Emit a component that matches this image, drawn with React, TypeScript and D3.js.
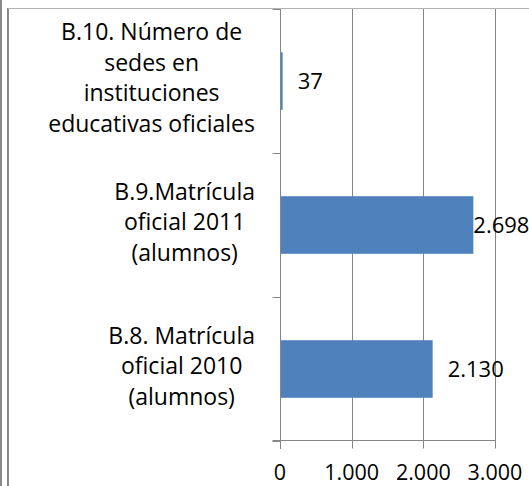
import { useEffect, useRef } from 'react';
import { select, scaleLinear, scaleBand, formatLocale } from 'd3';

// categories top to bottom, already wrapped like the original
const categoryLines = [
    ['B.10. Número de', 'sedes en', 'instituciones', 'educativas oficiales'],
    ['B.9.Matrícula', 'oficial 2011', '(alumnos)'],
    ['B.8. Matrícula', 'oficial 2010', '(alumnos)'],
];
const categoryKeys = ['B.10', 'B.9', 'B.8'];
const values = [37, 2698, 2130];
const xTicks = [0, 1000, 2000, 3000];

const width = 529;
const height = 486;
const FONT = '"Open Sans", Lato, sans-serif';

const App = () => {
    const svgRef = useRef(null);

    useEffect(() => {
        const svg = select(svgRef.current);
        svg.selectAll('*').remove();

        const fmt = formatLocale({ decimal: ',', thousands: '.', grouping: [3], currency: ['', ''] }).format(',');

        const margin = { top: 9, left: 280, right: 34, bottom: 45 };
        const x = scaleLinear()
            .domain([0, 3000])
            .range([margin.left, width - margin.right]);
        const y = scaleBand()
            .domain(categoryKeys)
            .range([margin.top, height - margin.bottom])
            .paddingInner(0.6)
            .paddingOuter(0.3);
        const step = y.step();
        const top = margin.top;
        const bottom = height - margin.bottom;

        // white background + chart borders
        svg.append('rect').attr('width', width).attr('height', height).attr('fill', 'white');
        svg.append('line')
            .attr('x1', 1).attr('x2', 1).attr('y1', 0).attr('y2', height)
            .attr('stroke', '#8a8a8a').attr('stroke-width', 2);
        svg.append('line')
            .attr('x1', 8).attr('x2', 8).attr('y1', 8).attr('y2', height)
            .attr('stroke', '#8a8a8a').attr('stroke-width', 2);
        svg.append('line')
            .attr('x1', 8).attr('x2', width).attr('y1', 8.5).attr('y2', 8.5)
            .attr('stroke', '#b4b4b4').attr('stroke-width', 1);

        // vertical gridlines
        svg.selectAll('.grid')
            .data(xTicks.filter(d => d > 0))
            .enter().append('line')
            .attr('class', 'grid')
            .attr('x1', d => Math.round(x(d)) + 0.5)
            .attr('x2', d => Math.round(x(d)) + 0.5)
            .attr('y1', top)
            .attr('y2', bottom)
            .attr('stroke', '#868686');

        // bars
        svg.selectAll('.bar')
            .data(values)
            .enter().append('rect')
            .attr('class', 'bar')
            .attr('x', x(0))
            .attr('y', (d, i) => y(categoryKeys[i]))
            .attr('width', d => x(d) - x(0))
            .attr('height', y.bandwidth())
            .attr('fill', '#4f81bd');

        // y axis line + ticks at band boundaries
        const ax = Math.round(x(0)) + 0.5;
        svg.append('line')
            .attr('x1', ax).attr('x2', ax).attr('y1', top).attr('y2', bottom + 8)
            .attr('stroke', '#868686');
        const bounds = [0, 1, 2, 3].map(i => Math.round(top + i * step) + 0.5);
        svg.selectAll('.ytick')
            .data(bounds)
            .enter().append('line')
            .attr('class', 'ytick')
            .attr('x1', ax - 8).attr('x2', ax)
            .attr('y1', d => d).attr('y2', d => d)
            .attr('stroke', '#868686');

        // x axis line + ticks
        const by = Math.round(bottom) - 0.5;
        svg.append('line')
            .attr('x1', ax - 8).attr('x2', x(3000) + 0.5).attr('y1', by).attr('y2', by)
            .attr('stroke', '#868686');
        svg.selectAll('.xtick')
            .data(xTicks)
            .enter().append('line')
            .attr('class', 'xtick')
            .attr('x1', d => Math.round(x(d)) + 0.5)
            .attr('x2', d => Math.round(x(d)) + 0.5)
            .attr('y1', by).attr('y2', by + 8)
            .attr('stroke', '#868686');

        svg.selectAll('.xlabel')
            .data(xTicks)
            .enter().append('text')
            .attr('class', 'xlabel')
            .attr('x', d => x(d))
            .attr('y', 480)
            .attr('text-anchor', 'middle')
            .style('font-family', FONT)
            .style('font-size', '21.5px')
            .attr('fill', '#000')
            .text(d => fmt(d));

        // category labels: block right-aligned to the axis, lines centred in block
        const lineH = 30.5;
        categoryLines.forEach((lines, i) => {
            const cy = y(categoryKeys[i]) + y.bandwidth() / 2;
            const g = svg.append('g');
            const texts = g.selectAll('text')
                .data(lines)
                .enter().append('text')
                .attr('y', (d, j) => cy + 5 + (j - (lines.length - 1) / 2) * lineH)
                .attr('text-anchor', 'middle')
                .style('font-family', FONT)
                .style('font-size', '23px')
                .attr('fill', '#000')
                .text(d => d);
            let maxW = 0;
            texts.each(function () {
                maxW = Math.max(maxW, this.getComputedTextLength());
            });
            texts.attr('x', margin.left - 25 - maxW / 2);
        });

        // value labels
        const plotRight = x(3000);
        svg.selectAll('.vlabel')
            .data(values)
            .enter().append('text')
            .attr('class', 'vlabel')
            .attr('x', d => (x(d) + 15 > plotRight - 20 ? x(d) : x(d) + 15))
            .attr('y', (d, i) => y(categoryKeys[i]) + y.bandwidth() / 2 + 8)
            .style('font-family', FONT)
            .style('font-size', '22px')
            .attr('fill', '#000')
            .text(d => fmt(d));
    }, []);

    return (
        <svg
            ref={svgRef}
            width={width}
            height={height}
            style={{ position: 'absolute', left: 0, top: 0, display: 'block' }}
        />
    );
};

export default App;
